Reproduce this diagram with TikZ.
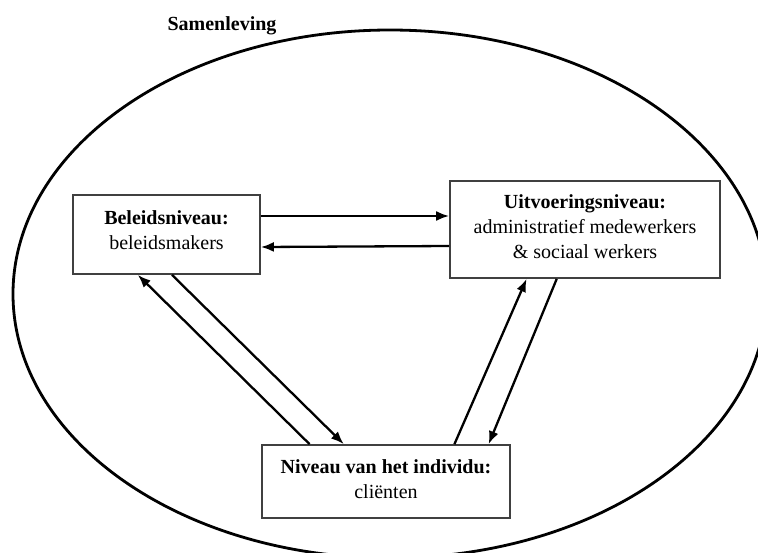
\documentclass[tikz,border=0pt]{standalone}
\usepackage{fontspec}
\setmainfont{Liberation Serif}
\usetikzlibrary{arrows.meta,calc}
\definecolor{boxgray}{HTML}{404040}
\tikzset{
  levelbox/.style={draw=boxgray, line width=1.7pt, inner sep=0pt},
  leveltext/.style={align=center, inner sep=0pt, font=\fontsize{20}{25}\selectfont},
  flow/.style={draw=black, line width=2.3pt, -{Latex[length=13pt,width=10pt]}},
}
\begin{document}
\begin{tikzpicture}[x=1pt,y=-1pt]
\useasboundingbox (0,0) rectangle (758,552);
\begin{scope}
  \clip (0,0) rectangle (758,552);
  \draw[line width=2.8pt] (390,294) ellipse [x radius=377pt, y radius=264pt];
\end{scope}
\node[font=\fontsize{20}{24}\selectfont\bfseries, inner sep=0pt] (sam) at (222,26) {Samenleving};

\node[levelbox, minimum width=187pt, minimum height=79pt] (bel) at (166.5,234.5) {};
\node[levelbox, minimum width=270pt, minimum height=97pt] (uit) at (585,229.5) {};
\node[levelbox, minimum width=248pt, minimum height=73pt] (niv) at (386,481.5) {};

\node[leveltext] (belt) at (166.5,230) {\textbf{Beleidsniveau:}\\beleidsmakers};
\node[leveltext] (uitt) at (585,227) {\textbf{Uitvoeringsniveau:}\\administratief medewerkers\\\& sociaal werkers};
\node[leveltext] (nivt) at (386,479.5) {\textbf{Niveau van het individu:}\\cliënten};

\draw[flow] ([yshift=18.5pt]bel.east) -- ([yshift=13.5pt]uit.west);
\draw[flow] ([yshift=-16.5pt]uit.west) -- ([yshift=-12.5pt]bel.east);

\draw[flow] ($(niv.north west)!0.194!(niv.north east)$) -- ($(bel.south west)!0.348!(bel.south east)$);
\draw[flow] ($(bel.south west)!0.529!(bel.south east)$) -- ($(niv.north west)!0.331!(niv.north east)$);
\draw[flow] ($(niv.north west)!0.774!(niv.north east)$) -- ($(uit.south west)!0.285!(uit.south east)$);
\draw[flow] ($(uit.south west)!0.396!(uit.south east)$) -- ($(niv.north west)!0.911!(niv.north east)$);
\end{tikzpicture}
\end{document}
